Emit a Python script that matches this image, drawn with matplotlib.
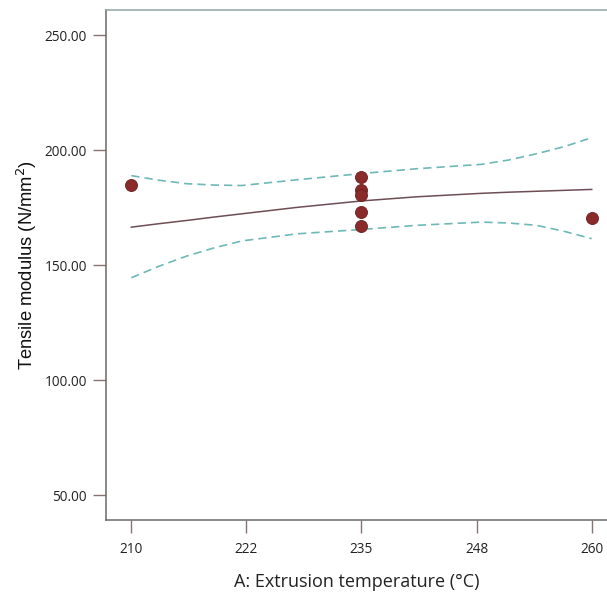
import matplotlib
matplotlib.use("Agg")
import matplotlib.pyplot as plt

# design points
temp_pts = [210, 235, 235, 235, 235, 235, 260]
modulus_pts = [184.9, 188.3, 182.9, 180.4, 173.4, 167.1, 170.5]

# fitted curve and 95% band
temp_grid = [210, 213, 216, 219, 222, 228, 235, 241, 248, 251, 254, 257, 260]
fit = [166.6, 168.1, 169.5, 171.0, 172.4, 175.2, 178.0, 179.8, 181.3, 181.8, 182.2, 182.6, 183.0]
upper = [189.0, 187.0, 185.5, 184.9, 184.7, 187.2, 189.9, 192.0, 193.9, 195.8, 198.5, 201.6, 205.5]
lower = [144.6, 149.6, 154.0, 157.6, 160.6, 163.7, 165.6, 167.4, 168.8, 168.4, 167.4, 164.8, 161.6]

xticks = [210, 222.5, 235, 247.5, 260]
xticklabels = ["210", "222", "235", "248", "260"]
yticks = [50, 100, 150, 200, 250]

fig = plt.figure(figsize=(6.07, 5.95), dpi=100)
ax = fig.add_axes([105.5/607, 75/595, 1 - 105.5/607, 510/595])

ax.plot(temp_grid, fit, color="#6e4e55", lw=1.1)
ax.plot(temp_grid, upper, color="#6fb8b8", lw=1.2, ls=(0, (5, 3)))
ax.plot(temp_grid, lower, color="#6fb8b8", lw=1.2, ls=(0, (5, 3)))
ax.scatter(temp_pts, modulus_pts, s=75, color="#8b2a2a", edgecolors="#6a2020",
           linewidths=0.6, zorder=3)

ax.set_xlim(207.2, 261.66)
ax.set_ylim(39.3, 261.0)
ax.set_xticks(xticks)
ax.set_xticklabels(xticklabels)
ax.set_yticks(yticks)
ax.set_yticklabels([f"{v:.2f}" for v in yticks])

for s in ["left", "bottom", "top"]:
    ax.spines[s].set_color("#6a6a6a")
    ax.spines[s].set_linewidth(1.1)
ax.spines["top"].set_color("#8fa3a3")
ax.spines["right"].set_visible(False)

ax.tick_params(axis="both", length=9.5, width=1.0, color="#8a7272",
               labelsize=9.8, labelcolor="#222222")
ax.tick_params(axis="y", pad=4)
ax.tick_params(axis="x", pad=6)
for lab in ax.get_xticklabels() + ax.get_yticklabels():
    lab.set_family("Open Sans")

ax.set_xlabel("A: Extrusion temperature (°C)", fontsize=13.0, family="Open Sans",
              labelpad=12, color="#222222")
ax.set_ylabel("Tensile modulus (N/mm$^2$)", fontsize=13.2, family="Liberation Sans",
              labelpad=4, color="#111111")

fig.savefig("out.png", dpi=100)
